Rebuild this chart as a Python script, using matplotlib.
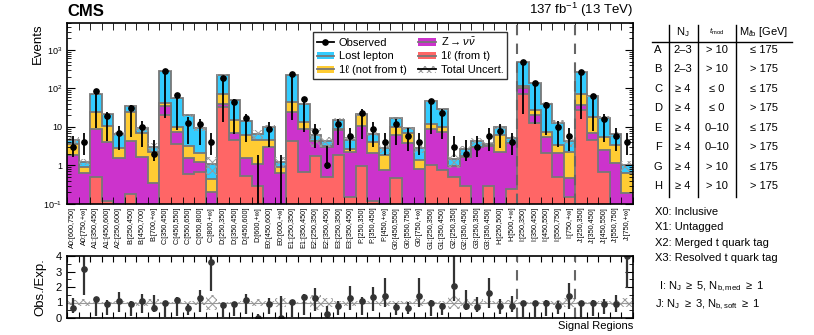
import numpy as np
import matplotlib
matplotlib.use("Agg")
import matplotlib.pyplot as plt
from matplotlib.patches import Patch
from matplotlib.lines import Line2D

plt.rcParams['font.family'] = ['Liberation Sans', 'DejaVu Sans']
plt.rcParams['mathtext.fontset'] = 'custom'
plt.rcParams['mathtext.rm'] = 'Liberation Sans'
plt.rcParams['mathtext.it'] = 'Liberation Sans:italic'
plt.rcParams['hatch.linewidth'] = 0.7

# signal region labels
regions = ["A0:[600,750]", "A0:[750,+\u221e]", "A1:[350,450]", "A1:[450,600]", "A2:[250,600]",
           "B:[250,450]", "B:[450,700]", "B:[700,+\u221e]",
           "C:[350,450]", "C:[450,550]", "C:[550,650]", "C:[650,800]", "C:[800,+\u221e]",
           "D:[250,350]", "D:[350,450]", "D:[450,600]", "D:[600,+\u221e]",
           "E0:[450,600]", "E0:[600,+\u221e]", "E1:[250,350]", "E1:[350,450]",
           "E2:[250,350]", "E2:[350,450]", "E3:[250,350]", "E3:[350,450]",
           "F:[250,350]", "F:[350,450]", "F:[450,+\u221e]",
           "G0:[450,550]", "G0:[550,750]", "G0:[750,+\u221e]", "G1:[250,350]", "G1:[350,450]",
           "G2:[250,350]", "G2:[350,450]", "G3:[250,350]", "G3:[350,450]",
           "H:[250,500]", "H:[500,+\u221e]",
           "I:[250,350]", "I:[350,450]", "I:[450,550]", "I:[550,750]", "I:[750,+\u221e]",
           "J:[250,350]", "J:[350,450]", "J:[450,550]", "J:[550,750]", "J:[750,+\u221e]"]

# background components (events per region)
one_l_top = [0, 0, 0.51, 0.12, 0, 0.18, 0, 0, 20.5, 3.6, 0.6, 0.69, 0, 33, 4.6, 0.54, 0.3,
             0, 0, 4.3, 0.66, 1.8, 0.51, 1.87, 0.15, 0.97, 0.12, 0, 0.46, 0, 0, 1.0, 0.76,
             0.51, 0.3, 0, 0.3, 0, 0.25, 70, 12.4, 2.15, 0.51, 0.155, 28, 4.6, 0.69, 0, 0]
znunu = [1.9, 0.63, 8.4, 3.9, 1.6, 4.1, 1.7, 0.36, 13.5, 4.0, 1.0, 0.51, 0.2, 7, 2.2, 1.06, 0.8,
         3.1, 0.63, 20.7, 7.94, 2.4, 2.59, 6.53, 2.15, 9.7, 1.95, 0.76, 5.74, 3.8, 0.79, 7.8, 6.84,
         0.44, 1.4, 3.0, 3.0, 2.3, 3.55, 30, 8.1, 3.25, 1.56, 0.305, 9, 2.2, 1.76, 1.14, 0.19]
one_l_not_top = [1.7, 0.30, 15.1, 6.7, 1.2, 20.7, 5.1, 1.94, 7, 2.6, 1.7, 0.87, 0.24, 32, 8.4, 4.6, 3.4,
                 1.4, 0.30, 19, 4.9, 0.1, 0.05, 0.2, 0.3, 9.8, 2.08, 1.11, 4.0, 3.0, 0.6, 3.2, 2.6,
                 0.02, 0.05, 0.05, 0.05, 3.9, 0.05, 15, 6.5, 2.2, 1.33, 1.84, 35, 11.8, 3.05, 2.26, 0.44]
lost_lepton = [1.0, 0.33, 47, 10.8, 3.7, 10, 2.4, 0.8, 249, 47.8, 16.7, 7.1, 0.66, 152, 34.8, 8.4, 2.0,
               5.7, 0.33, 186, 25.5, 1.9, 1.1, 6.6, 2.1, 1.0, 2.45, 0.93, 6.6, 2.4, 1.41, 34, 18.8,
               0.48, 0.85, 1.25, 0.35, 3.8, 1.25, 385, 111, 32.4, 9.6, 1.9, 203, 43.4, 12, 3.1, 0.37]
rel_unc = [0.18, 0.2, 0.05, 0.05, 0.12, 0.05, 0.2, 0.25, 0.03, 0.05, 0.1, 0.15, 0.5, 0.05, 0.05, 0.1,
           0.25, 0.1, 0.3, 0.05, 0.05, 0.5, 0.3, 0.1, 0.2, 0.1, 0.1, 0.25, 0.1, 0.1, 0.25, 0.05, 0.1,
           0.4, 0.2, 0.2, 0.1, 0.1, 0.15, 0.03, 0.05, 0.08, 0.15, 0.3, 0.05, 0.05, 0.1, 0.15, 0.3]
observed = [3, 4, 87, 19, 7, 31, 10, 2, 288, 68, 13, 12, 4, 186, 44, 17, 0, 9, 0, 240, 52, 8, 1,
            12, 6, 23, 9, 4, 12, 6, 4, 46, 23, 3, 2, 3, 6, 8, 4, 500, 135, 38, 10, 6, 268, 62, 16, 6, 4]

nb = len(regions)
edges = np.arange(nb + 1)
centers = edges[:-1] + 0.5

c_red = '#ff6666'
c_pur = '#cc33cc'
c_yel = '#ffcc33'
c_blu = '#33ccff'
c_line = '#777777'

red = np.array(one_l_top)
pur = red + np.array(znunu)
yel = pur + np.array(one_l_not_top)
blu = yel + np.array(lost_lepton)
unc = np.array(rel_unc)
obs = np.array(observed, float)

# Poisson (Garwood) intervals
n_safe = np.maximum(obs, 1e-9)
lo = np.where(obs > 0, obs * (1 - 1 / (9 * n_safe) - 1 / (3 * np.sqrt(n_safe))) ** 3, 0)
up = (obs + 1) * (1 - 1 / (9 * (obs + 1)) + 1 / (3 * np.sqrt(obs + 1))) ** 3

fig = plt.figure(figsize=(8.14, 3.35), dpi=100)
ax = fig.add_axes([67 / 814, 1 - 204 / 335, 566 / 814, 181 / 335])
rax = fig.add_axes([67 / 814, 1 - 318 / 335, 566 / 814, 62 / 335])

ax.set_yscale('log')
floor = 1e-3
for cum, col in [(blu, c_blu), (yel, c_yel), (pur, c_pur), (red, c_red)]:
    vals = np.maximum(cum, floor)
    ax.stairs(vals, edges, baseline=floor, fill=True, color=col, lw=0)
    ax.stairs(vals, edges, baseline=None, color=c_line, lw=1.3)

ax.bar(edges[:-1], 2 * unc * blu, bottom=blu * (1 - unc), width=1, align='edge',
       fill=False, hatch='xxxx', edgecolor='#999999', lw=0)

m = obs > 0
ax.vlines(centers, np.maximum(obs - lo, floor), up, color='black', lw=1.3)
ax.plot(centers[m], obs[m], 'o', color='black', ms=3.8)

for x in (39, 44):
    ax.axvline(x, color='#666666', ls=(0, (5, 4)), lw=1.5)
    rax.axvline(x, color='#666666', ls=(0, (5, 4)), lw=1.5)

ax.set_xlim(0, nb)
ax.set_ylim(0.1, 5000)
ax.set_yticks([0.1, 1, 10, 100, 1000], ['10$^{-1}$', '1', '10', '10$^{2}$', '10$^{3}$'])
ax.tick_params(axis='y', which='both', direction='in', right=True, labelsize=6.5)
ax.tick_params(axis='y', which='major', length=6)
ax.tick_params(axis='y', which='minor', length=3)
ax.set_xticks(centers, regions, rotation=90, fontsize=5.2)
ax.set_xticks(edges, minor=True)
ax.tick_params(axis='x', which='major', length=0, pad=2)
ax.tick_params(axis='x', which='minor', direction='in', length=5, top=True, bottom=True)
ax.set_ylabel('Events', fontsize=9.5, loc='top')
ax.yaxis.set_label_coords(-0.04, 1.0)

ax.text(0.0, 1.02, 'CMS', transform=ax.transAxes, fontsize=12, fontweight='bold',
        ha='left', va='bottom')
ax.text(1.0, 1.02, '137 fb$^{-1}$ (13 TeV)', transform=ax.transAxes, fontsize=9.5,
        ha='right', va='bottom')

h_obs = Line2D([], [], color='black', marker='o', ms=3.8, lw=1.3)
def stack_handle(col):
    return (Patch(facecolor=col, edgecolor='none'), Line2D([], [], color=c_line, lw=1.3))
h_unc = (Patch(facecolor='white', edgecolor='#999999', hatch='xxxx', lw=0),
         Line2D([], [], color='black', lw=1.3))
handles = [h_obs, stack_handle(c_blu), stack_handle(c_yel),
           stack_handle(c_pur), stack_handle(c_red), h_unc]
labels = ['Observed', 'Lost lepton', '1\u2113 (not from t)',
          r'Z$\rightarrow\nu\bar{\nu}$', '1\u2113 (from t)', 'Total Uncert.']
leg = ax.legend(handles, labels, ncol=2, loc='upper left',
                bbox_to_anchor=(0.435, 0.652, 0.342, 0.298), mode='expand',
                fontsize=8, frameon=True, fancybox=False, edgecolor='black',
                handlelength=1.6, handletextpad=0.4, borderpad=0.3,
                labelspacing=0.35, columnspacing=0.5, borderaxespad=0)
leg.get_frame().set_linewidth(1.0)

# ratio panel
exp = blu
ratio = obs / exp
rax.bar(edges[:-1], 2 * unc, bottom=1 - unc, width=1, align='edge',
        fill=False, hatch='xxxx', edgecolor='#999999', lw=0)
rax.axhline(1, color='#999999', lw=0.8)
rax.vlines(centers, (obs - lo) / exp, up / exp, color='#333333', lw=1.6)
rax.plot(centers, ratio, 'o', color='#333333', ms=3.8, clip_on=True)
rax.set_xlim(0, nb)
rax.set_ylim(0, 4)
rax.set_yticks([0, 1, 2, 3, 4])
rax.set_yticks(np.arange(0, 4.01, 0.5), minor=True)
rax.set_xticks(edges)
rax.set_xticklabels([])
rax.tick_params(which='both', direction='in', top=True, right=True, labelsize=8)
rax.tick_params(axis='x', length=4)
rax.tick_params(axis='y', which='major', length=6)
rax.tick_params(axis='y', which='minor', length=3)
rax.set_ylabel('Obs./Exp.', fontsize=9.5)
rax.yaxis.set_label_coords(-0.037, 0.5)
fig.text(633 / 814, 1 - 326 / 335, 'Signal Regions', fontsize=8, ha='right', va='center')

for a in (ax, rax):
    for s in a.spines.values():
        s.set_linewidth(1.2)

# definitions table on the right
def fy(y):
    return 1 - y / 335

def fx(x):
    return x / 814

tsize = 8
fig.text(fx(683), fy(32), r'N$_{\mathrm{J}}$', fontsize=tsize, ha='center', va='center')
fig.text(fx(717), fy(32), r'$t_{\mathrm{mod}}$', fontsize=6, ha='center', va='center')
fig.text(fx(764), fy(32), r'M$_{\ell\mathrm{b}}$ [GeV]', fontsize=tsize, ha='center', va='center')
fig.add_artist(Line2D([fx(652), fx(792)], [fy(42), fy(42)], color='black', lw=1))
for x in (669, 698, 736):
    fig.add_artist(Line2D([fx(x), fx(x)], [fy(25), fy(197)], color='black', lw=1))

table_rows = ['A', 'B', 'C', 'D', 'E', 'F', 'G', 'H']
table_nj = ['2\u20133', '2\u20133', '\u2265 4', '\u2265 4', '\u2265 4', '\u2265 4', '\u2265 4', '\u2265 4']
table_tmod = ['> 10', '> 10', '\u2264 0', '\u2264 0', '0\u201310', '0\u201310', '> 10', '> 10']
table_mlb = ['\u2264 175', '> 175', '\u2264 175', '> 175', '\u2264 175', '> 175', '\u2264 175', '> 175']
row_y = [50, 69, 89, 108, 128, 147, 167, 186]
for r, nj, tm, ml, y in zip(table_rows, table_nj, table_tmod, table_mlb, row_y):
    fig.text(fx(658), fy(y), r, fontsize=tsize, ha='center', va='center')
    fig.text(fx(683), fy(y), nj, fontsize=tsize, ha='center', va='center')
    fig.text(fx(717), fy(y), tm, fontsize=tsize, ha='center', va='center')
    fig.text(fx(764), fy(y), ml, fontsize=tsize, ha='center', va='center')

notes = ['X0: Inclusive', 'X1: Untagged', 'X2: Merged t quark tag', 'X3: Resolved t quark tag']
for i, t in enumerate(notes):
    fig.text(fx(655), fy(212 + 15.3 * i), t, fontsize=tsize, ha='left', va='center')
fig.text(fx(659), fy(287), r'I: N$_{\mathrm{J}}$ $\geq$ 5, N$_{\mathrm{b,med}}$ $\geq$ 1',
         fontsize=tsize, ha='left', va='center')
fig.text(fx(655), fy(305), r'J: N$_{\mathrm{J}}$ $\geq$ 3, N$_{\mathrm{b,soft}}$ $\geq$ 1',
         fontsize=tsize, ha='left', va='center')

fig.savefig('out.png', dpi=100)
